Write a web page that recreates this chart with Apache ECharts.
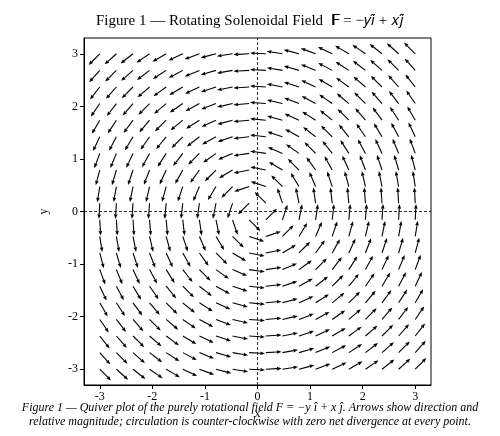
<!DOCTYPE html><html><head><meta charset="utf-8">
<script src="https://cdn.jsdelivr.net/npm/echarts@6/dist/echarts.min.js"></script>
<style>body{margin:0}#c{width:500px;height:436px}</style></head><body><div id="c"></div>
<script>
// grid positions (20 per axis, -3..3)
const xs=[-3,-2.684,-2.368,-2.053,-1.737,-1.421,-1.105,-0.789,-0.474,-0.158,0.158,0.474,0.789,1.105,1.421,1.737,2.053,2.368,2.684,3];
const ys=xs.slice();
const ticks=[-3,-2,-1,0,1,2,3];
// field F = (-y, x) as given in the title
const data=[];
for(const x of xs)for(const y of ys){data.push([x,y,-y,x]);}
const L=0.3;
const chart=echarts.init(document.getElementById('c'));
const axisCommon={type:'value',min:-3.3,max:3.3,nameLocation:'middle',
  axisLine:{onZero:false,lineStyle:{color:'#000'}},axisTick:{inside:false,length:4,customValues:ticks,lineStyle:{color:'#000'}},splitLine:{show:false},
  axisLabel:{customValues:ticks,color:'#000',fontFamily:'Liberation Serif',fontSize:12,margin:6},nameTextStyle:{color:'#000',fontFamily:'Liberation Serif',fontSize:12}};
chart.setOption({
 animation:false,
 title:{text:'Figure 1 — Rotating Solenoidal Field  𝐅 = −𝑦𝑖̂ + 𝑥𝑗̂',left:'center',top:9,textStyle:{fontFamily:'Liberation Serif',fontWeight:'normal',fontSize:15,color:'#000'}},
 graphic:[{type:'text',left:'center',top:401,style:{text:'Figure 1 — Quiver plot of the purely rotational field F = −y î + x ĵ. Arrows show direction and\nrelative magnitude; circulation is counter-clockwise with zero net divergence at every point.',font:'italic 12px "Liberation Serif"',fill:'#000',textAlign:'center',lineHeight:14}},
 {type:'rect',shape:{x:84,y:38,width:347,height:347},style:{fill:'none',stroke:'#000',lineWidth:1},silent:true}],
 grid:{left:84,right:69,top:38,bottom:51},
 xAxis:Object.assign({},axisCommon,{name:'x',nameGap:18}),
 yAxis:Object.assign({},axisCommon,{name:'y',nameGap:34}),
 series:[{type:'custom',data:data,clip:true,
  renderItem:function(p,api){
   const x=api.value(0),y=api.value(1),u=api.value(2),v=api.value(3);
   const m=Math.hypot(u,v)||1;
   const p0=api.coord([x,y]),p1=api.coord([x+u/m*L,y+v/m*L]);
   const dx=p1[0]-p0[0],dy=p1[1]-p0[1],len=Math.hypot(dx,dy);
   const ux=dx/len,uy=dy/len,h=4.5,w=1.8;
   const b=[p1[0]-ux*h,p1[1]-uy*h];
   return {type:'group',children:[
    {type:'line',shape:{x1:p0[0],y1:p0[1],x2:b[0],y2:b[1]},style:{stroke:'#000',lineWidth:1.1}},
    {type:'polygon',shape:{points:[p1,[b[0]-uy*w,b[1]+ux*w],[b[0]+uy*w,b[1]-ux*w]]},style:{fill:'#000'}}]};
  },
  markLine:{silent:true,symbol:'none',label:{show:false},lineStyle:{color:'#000',type:[3,2],width:0.8},data:[{xAxis:0},{yAxis:0}]}
 }]
});
</script></body></html>
